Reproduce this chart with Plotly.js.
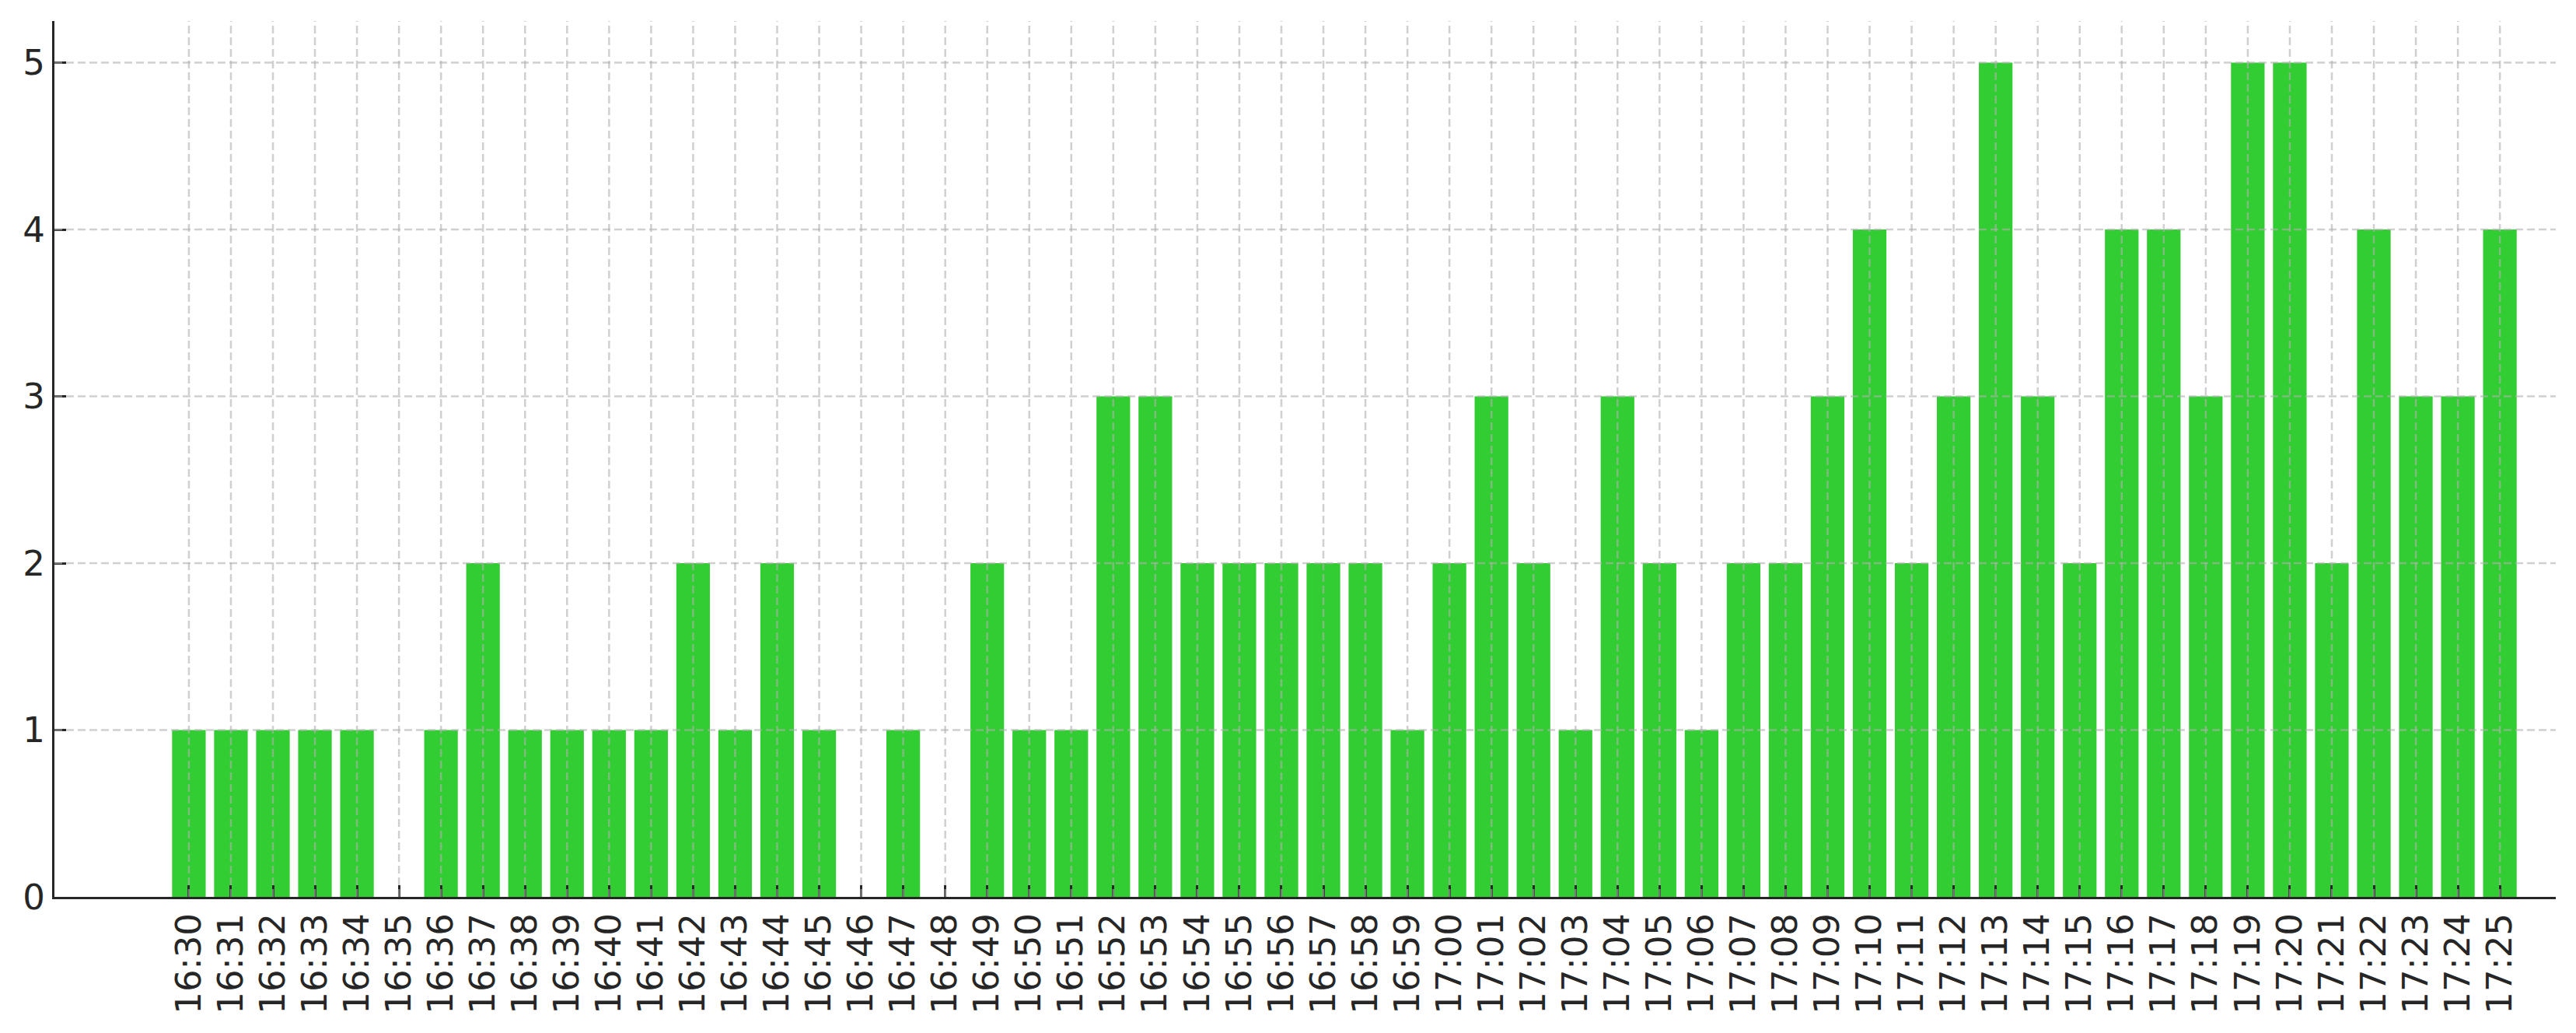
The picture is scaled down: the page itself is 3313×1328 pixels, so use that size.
<!DOCTYPE html>
<html>
<head>
<meta charset="utf-8">
<script src="https://cdn.plot.ly/plotly-3.0.1.min.js"></script>
<style>
  html, body { margin: 0; padding: 0; background: #fff; }
  #chart { width: 3313px; height: 1328px; }
</style>
</head>
<body>
<div id="chart"></div>
<script>
'use strict';

const minutes = [
  '16:30', '16:31', '16:32', '16:33', '16:34', '16:35', '16:36', '16:37',
  '16:38', '16:39', '16:40', '16:41', '16:42', '16:43', '16:44', '16:45',
  '16:46', '16:47', '16:48', '16:49', '16:50', '16:51', '16:52', '16:53',
  '16:54', '16:55', '16:56', '16:57', '16:58', '16:59', '17:00', '17:01',
  '17:02', '17:03', '17:04', '17:05', '17:06', '17:07', '17:08', '17:09',
  '17:10', '17:11', '17:12', '17:13', '17:14', '17:15', '17:16', '17:17',
  '17:18', '17:19', '17:20', '17:21', '17:22', '17:23', '17:24', '17:25'
];

const counts = [
  1, 1, 1, 1, 1, 0, 1, 2,
  1, 1, 1, 1, 2, 1, 2, 1,
  0, 1, 0, 2, 1, 1, 3, 3,
  2, 2, 2, 2, 2, 1, 2, 3,
  2, 1, 3, 2, 1, 2, 2, 3,
  4, 2, 3, 5, 3, 2, 4, 4,
  3, 5, 5, 2, 4, 3, 3, 4
];

const yTicks = [0, 1, 2, 3, 4, 5];

const axisColor = '#262626';
const gridColor = 'rgba(176,176,176,0.6)';

const trace = {
  x: minutes,
  y: counts,
  type: 'bar',
  width: 0.8,
  marker: { color: '#32cd32', line: { width: 0 } },
  hoverinfo: 'x+y'
};

// grid drawn over the bars, as in the source image
const gridShapes = [];
minutes.forEach(function (m) {
  gridShapes.push({
    type: 'line', layer: 'above', xref: 'x', yref: 'paper',
    x0: m, x1: m, y0: 0, y1: 1,
    line: { color: gridColor, width: 2.5, dash: '10px,5px' }
  });
});
yTicks.slice(1).forEach(function (v) {
  gridShapes.push({
    type: 'line', layer: 'above', xref: 'paper', yref: 'y',
    x0: 0, x1: 1, y0: v, y1: v,
    line: { color: gridColor, width: 2.5, dash: '10px,5px' }
  });
});

const layout = {
  width: 3313,
  height: 1328,
  margin: { l: 70, r: 26, t: 27, b: 175 },
  paper_bgcolor: '#ffffff',
  plot_bgcolor: '#ffffff',
  showlegend: false,
  bargap: 0.2,
  font: { family: 'DejaVu Sans', size: 45, color: axisColor },
  xaxis: {
    type: 'category',
    range: [-3.2, 56.33],
    tickmode: 'array',
    tickvals: minutes,
    ticktext: minutes,
    tickangle: -90,
    showgrid: false,
    zeroline: false,
    showline: true,
    linecolor: axisColor,
    linewidth: 3,
    ticks: 'inside',
    ticklen: 15,
    tickwidth: 3,
    tickcolor: axisColor,
    layer: 'above traces',
    tickfont: { family: 'DejaVu Sans', size: 45, color: axisColor }
  },
  yaxis: {
    range: [0, 5.25],
    tickmode: 'array',
    tickvals: yTicks,
    ticktext: yTicks.map(String),
    showgrid: false,
    zeroline: false,
    showline: true,
    linecolor: axisColor,
    linewidth: 3,
    ticks: 'inside',
    ticklen: 15,
    tickwidth: 3,
    tickcolor: axisColor,
    layer: 'above traces',
    tickfont: { family: 'DejaVu Sans', size: 45, color: axisColor }
  },
  shapes: gridShapes
};

Plotly.newPlot('chart', [trace], layout, { displayModeBar: false, staticPlot: true });
</script>
</body>
</html>
